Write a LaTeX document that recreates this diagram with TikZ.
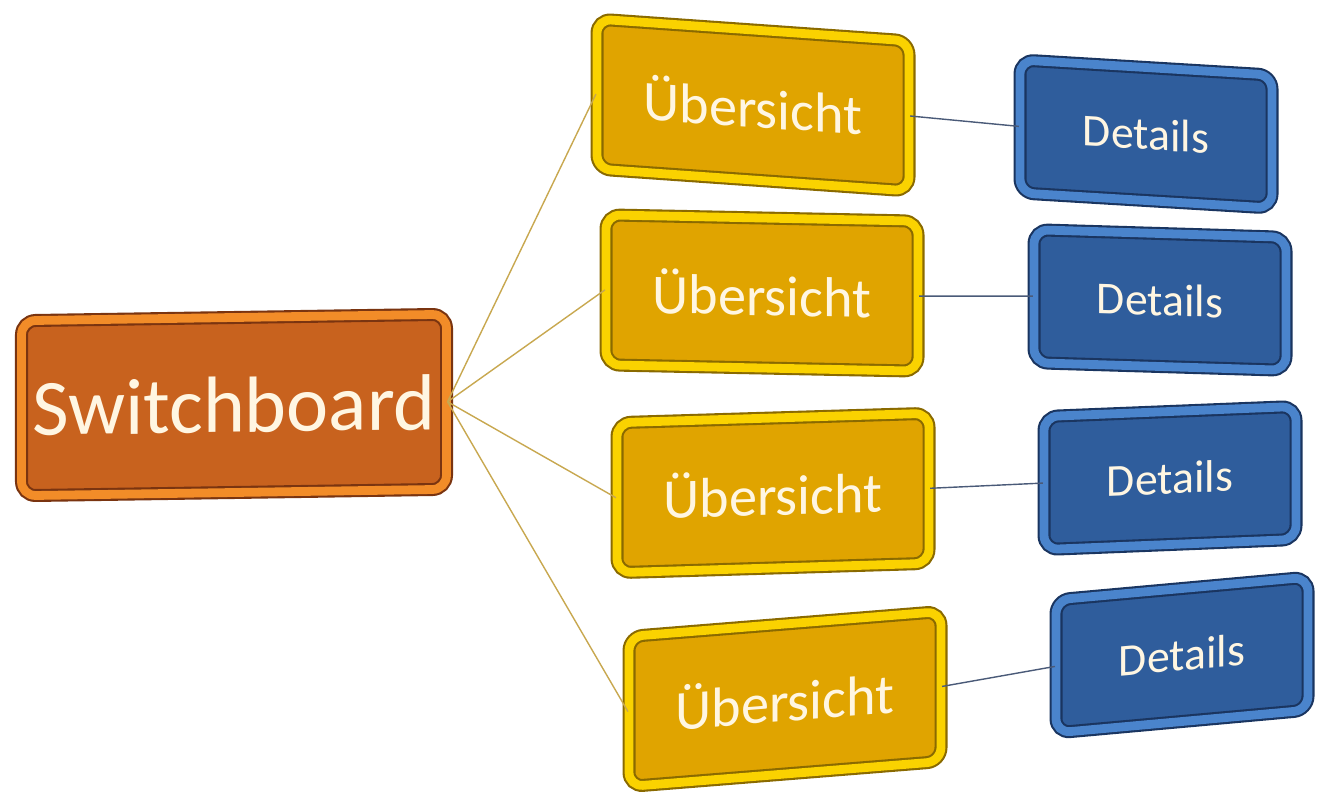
\documentclass[tikz,border=0pt]{standalone}
\usepackage{fontspec}
\setmainfont{Carlito}
\usepackage{tikz}
\usepackage{xcolor}
\usetikzlibrary{positioning,shapes}
\usetikzlibrary{calc}

\definecolor{orface}{HTML}{C8621E}
\definecolor{orrim}{HTML}{F28C28}
\definecolor{ordark}{HTML}{7A3410}
\definecolor{goface}{HTML}{E0A400}
\definecolor{gorim}{HTML}{FAD200}
\definecolor{godark}{HTML}{8A6A00}
\definecolor{blface}{HTML}{2F5D9C}
\definecolor{blrim}{HTML}{4A84CC}
\definecolor{bldark}{HTML}{1A3560}
\definecolor{goline}{HTML}{C8A850}
\definecolor{blline}{HTML}{4A5A78}
\definecolor{cream}{HTML}{FFF6E2}

\begin{document}
\begin{tikzpicture}[thick,
	box/.style = {rectangle, rounded corners=4pt, transform shape, text=cream, line width=0.6pt, double distance=2.5pt, inner sep=0pt},
	hub/.style = {box, draw=ordark, double=orrim, fill=orface, minimum width=4.25cm, minimum height=1.75cm, font=\fontsize{22.7}{26}\selectfont},
	main/.style = {box, draw=godark, double=gorim, fill=goface, minimum width=3.12cm, minimum height=1.5cm, font=\fontsize{16}{19}\selectfont},
	leaf/.style = {box, draw=bldark, double=blrim, fill=blface, minimum width=2.52cm, minimum height=1.33cm, font=\fontsize{13}{16}\selectfont}]
		\useasboundingbox (0,0) rectangle (13.19,-8.11);
		\node[hub, yslant=0.015] (0) at (2.34,-4.05) {Switchboard};
		\node[main, yslant=-0.07] (1) at (7.53,-1.05) {Übersicht};
		\node[main, yslant=-0.02] (2) at (7.62,-2.93) {Übersicht};
		\node[main, yslant=0.03] (3) at (7.73,-4.93) {Übersicht};
		\node[main, yslant=0.08] (4) at (7.85,-6.99) {Übersicht};
		\node[leaf, yslant=-0.06] (5) at (11.46,-1.34) {Details};
		\node[leaf, yslant=-0.03] (6) at (11.60,-3.00) {Details};
		\node[leaf, yslant=0.04] (7) at (11.70,-4.78) {Details};
		\node[leaf, yslant=0.09] (8) at (11.82,-6.55) {Details};
		\draw[goline, thin] (0.east) -- (1.west);
		\draw[goline, thin] (0.east) -- (2.west);
		\draw[goline, thin] (0.east) -- (3.west);
		\draw[goline, thin] (0.east) -- (4.west);
		\draw[blline, thin] (1.east) -- (5.west);
		\draw[blline, thin] (2.east) -- (6.west);
		\draw[blline, thin] (3.east) -- (7.west);
		\draw[blline, thin] (4.east) -- (8.west);
	\end{tikzpicture}
\end{document}
